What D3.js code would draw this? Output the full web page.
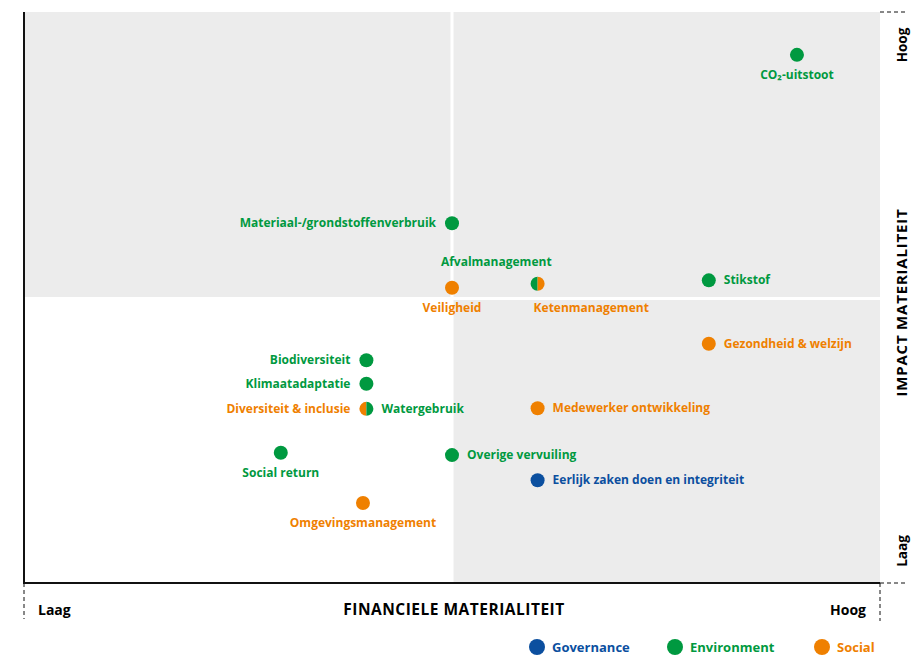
<!DOCTYPE html>
<html>
<head>
<meta charset="utf-8">
<script src="https://cdn.jsdelivr.net/npm/d3@7"></script>
<style>
  body { margin: 0; background: #fff; }
  text { font-family: "Open Sans", Lato, sans-serif; font-weight: 700; }
</style>
</head>
<body>
<div id="chart"></div>
<script>
// topics, financial (x) and impact (y) scores on a 0-10 scale
const topics = ["CO₂-uitstoot", "Materiaal-/grondstoffenverbruik", "Afvalmanagement", "Ketenmanagement",
  "Veiligheid", "Stikstof", "Gezondheid & welzijn", "Biodiversiteit", "Klimaatadaptatie",
  "Diversiteit & inclusie", "Watergebruik", "Medewerker ontwikkeling", "Social return",
  "Overige vervuiling", "Eerlijk zaken doen en integriteit", "Omgevingsmanagement"];
const financial = [9.03, 5.0, 6.0, 6.0, 5.0, 8.0, 8.0, 4.0, 4.0, 4.0, 4.0, 6.0, 3.0, 5.0, 6.0, 3.96];
const impact = [9.25, 6.3, 5.24, 5.24, 5.17, 5.3, 4.19, 3.9, 3.49, 3.05, 3.05, 3.06, 2.28, 2.24, 1.8, 1.4];
const category = ["Environment", "Environment", "Environment", "Social", "Social", "Environment", "Social",
  "Environment", "Environment", "Social", "Environment", "Social", "Environment", "Environment",
  "Governance", "Social"];
const labelSide = ["below", "left", "aboveLeft", "belowRight", "below", "right", "right", "left", "left",
  "left", "right", "right", "below", "right", "right", "below"];

const categories = ["Governance", "Environment", "Social"];
const colors = ["#0b4f9f", "#009940", "#ef8000"];

const width = 911, height = 655;
const margin = {top: 12, right: 31, bottom: 72, left: 24};

const svg = d3.select("#chart").append("svg")
    .attr("width", width)
    .attr("height", height);

const x = d3.scaleLinear().domain([0, 10]).range([margin.left, width - margin.right]);
const y = d3.scaleLinear().domain([0, 10]).range([height - margin.bottom, margin.top]);
const color = d3.scaleOrdinal().domain(categories).range(colors);

// quadrants
const quads = [[0, 5, 5, 10, "#ececec"], [5, 10, 5, 10, "#ececec"], [0, 5, 0, 5, "#ffffff"], [5, 10, 0, 5, "#ececec"]];
svg.selectAll("rect.quad")
    .data(quads)
    .enter()
    .append("rect")
    .attr("class", "quad")
    .attr("x", d => x(d[0]))
    .attr("y", d => y(d[3]))
    .attr("width", d => x(d[1]) - x(d[0]))
    .attr("height", d => y(d[2]) - y(d[3]))
    .attr("fill", d => d[4]);

svg.append("line")
    .attr("x1", x(5)).attr("x2", x(5))
    .attr("y1", y(10)).attr("y2", y(0))
    .attr("stroke", "#fff").attr("stroke-width", 3);
svg.append("line")
    .attr("x1", x(0)).attr("x2", x(10))
    .attr("y1", y(5) + 1).attr("y2", y(5) + 1)
    .attr("stroke", "#fff").attr("stroke-width", 3);

// axes
svg.append("path")
    .attr("d", `M${x(0)},${y(10)}V${y(0)}H${x(10)}`)
    .attr("fill", "none").attr("stroke", "#111").attr("stroke-width", 2);

const dashed = [
  [x(10), y(10), width - 6, y(10)],
  [x(10), y(0), width - 6, y(0)],
  [x(10), y(0), x(10), y(0) + 38],
  [x(0), y(0), x(0), y(0) + 36]
];
svg.selectAll("line.dash")
    .data(dashed)
    .enter()
    .append("line")
    .attr("class", "dash")
    .attr("x1", d => d[0]).attr("y1", d => d[1])
    .attr("x2", d => d[2]).attr("y2", d => d[3])
    .attr("stroke", "#111").attr("stroke-width", 1)
    .attr("stroke-dasharray", "4,3");

const axisY = y(0) + 32;
svg.append("text").attr("x", x(0) + 14).attr("y", axisY).attr("font-size", 14).text("Laag");
svg.append("text").attr("x", x(10) - 14).attr("y", axisY).attr("font-size", 14)
    .attr("text-anchor", "end").text("Hoog");
svg.append("text").attr("x", x(5) + 2).attr("y", axisY).attr("font-size", 15.5)
    .attr("letter-spacing", 0.5)
    .attr("text-anchor", "middle").text("FINANCIELE MATERIALITEIT");

const vx = width - 4;
svg.append("text").attr("transform", `translate(${vx},${y(10) + 33}) rotate(-90)`)
    .attr("font-size", 13.5).attr("text-anchor", "middle").text("Hoog");
svg.append("text").attr("transform", `translate(${vx},${y(0) - 32}) rotate(-90)`)
    .attr("font-size", 13.5).attr("text-anchor", "middle").text("Laag");
svg.append("text").attr("transform", `translate(${vx},${y(5) + 5}) rotate(-90)`)
    .attr("font-size", 15).attr("letter-spacing", 0.8)
    .attr("text-anchor", "middle").text("IMPACT MATERIALITEIT");

// points
const items = topics.map((t, i) => ({name: t, x: financial[i], y: impact[i], cat: category[i], side: labelSide[i]}));
const groups = Array.from(d3.group(items, d => d.x + "," + d.y).values());
const r = 7;
const arc = d3.arc().innerRadius(0).outerRadius(r);

groups.forEach(g => {
  const gx = x(g[0].x), gy = y(g[0].y);
  if (g.length === 1) {
    svg.append("circle").attr("cx", gx).attr("cy", gy).attr("r", r).attr("fill", color(g[0].cat));
  } else {
    svg.append("path").attr("transform", `translate(${gx},${gy})`)
        .attr("d", arc({startAngle: Math.PI, endAngle: 2 * Math.PI})).attr("fill", color(g[0].cat));
    svg.append("path").attr("transform", `translate(${gx},${gy})`)
        .attr("d", arc({startAngle: 0, endAngle: Math.PI})).attr("fill", color(g[1].cat));
  }
});

const place = {
  left:       {dx: -16, dy: 4, anchor: "end"},
  right:      {dx: 15, dy: 4, anchor: "start"},
  below:      {dx: 0, dy: 24, anchor: "middle"},
  aboveLeft:  {dx: 14, dy: -18, anchor: "end"},
  belowRight: {dx: -4, dy: 28, anchor: "start"}
};

svg.selectAll("text.label")
    .data(items)
    .enter()
    .append("text")
    .attr("class", "label")
    .attr("x", d => x(d.x) + place[d.side].dx)
    .attr("y", d => y(d.y) + place[d.side].dy)
    .attr("text-anchor", d => place[d.side].anchor)
    .attr("font-size", 12)
    .attr("fill", d => color(d.cat))
    .text(d => d.name);

// legend
const legendX = [537, 675, 822];
const legend = svg.selectAll("g.legend")
    .data(categories)
    .enter()
    .append("g")
    .attr("class", "legend")
    .attr("transform", (d, i) => `translate(${legendX[i]},${height - 8})`);
legend.append("circle").attr("r", 8).attr("fill", d => color(d));
legend.append("text").attr("x", 15).attr("y", 5).attr("font-size", 13)
    .attr("fill", d => color(d)).text(d => d);
</script>
</body>
</html>
